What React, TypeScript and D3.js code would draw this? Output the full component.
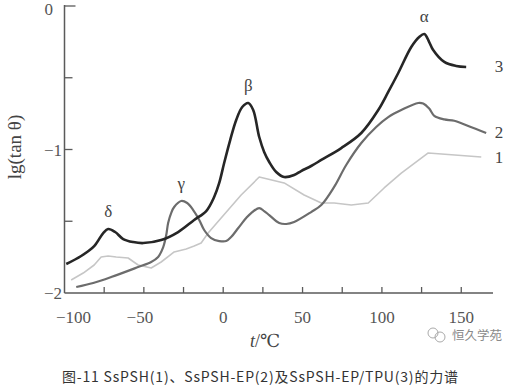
import React from "react";
import * as d3 from "d3";

const xTicks = [-100, -75, -50, -25, 0, 25, 50, 75, 100, 125, 150];
const xTickLabels = [-100, -50, 0, 50, 100, 150];
const yTicks = [0, -0.5, -1, -1.5, -2];
const yTickLabels = [0, -1, -2];

// curve 1: SsPSH
const t1 = [-95.8, -88.2, -81.3, -76.9, -72.5, -67.4, -59.9, -53.6, -45.4, -39.1, -30.9, -23.3, -18.3, -13.9, -9.5, -1.3, 11.3, 22.7, 38.4, 51.0, 61.8, 69.9, 80.7, 91.4, 101.4, 112.2, 129.2, 162.6];
const v1 = [-1.909, -1.861, -1.805, -1.749, -1.742, -1.749, -1.756, -1.805, -1.826, -1.784, -1.714, -1.693, -1.673, -1.652, -1.582, -1.477, -1.317, -1.192, -1.233, -1.317, -1.373, -1.373, -1.387, -1.373, -1.268, -1.164, -1.024, -1.052];

// curve 2: SsPSH-EP
const t2 = [-92.6, -81.9, -70.6, -53.6, -45.4, -41.0, -37.8, -35.9, -34.7, -32.8, -30.9, -26.5, -22.7, -18.9, -15.1, -12.0, -7.6, -2.5, 1.9, 5.0, 9.5, 14.5, 17.6, 22.7, 25.8, 29.0, 35.3, 39.7, 44.7, 55.4, 61.8, 69.9, 77.5, 87.0, 96.4, 104.0, 112.2, 122.9, 126.0, 129.8, 133.0, 139.3, 145.6, 154.4, 165.7];
const v2 = [-1.958, -1.930, -1.889, -1.819, -1.784, -1.749, -1.680, -1.596, -1.512, -1.443, -1.401, -1.359, -1.373, -1.422, -1.491, -1.561, -1.617, -1.638, -1.638, -1.610, -1.547, -1.477, -1.443, -1.408, -1.429, -1.457, -1.512, -1.519, -1.505, -1.436, -1.387, -1.261, -1.108, -0.955, -0.843, -0.774, -0.725, -0.676, -0.680, -0.715, -0.765, -0.790, -0.800, -0.836, -0.885];

// curve 3: SsPSH-EP/TPU
const t3 = [-98.9, -89.5, -81.3, -75.6, -72.5, -68.1, -63.0, -56.7, -50.4, -39.1, -28.4, -18.3, -10.7, -5.7, -2.5, 0.6, 4.4, 8.2, 12.0, 15.8, 18.9, 22.7, 25.8, 29.0, 33.4, 38.4, 44.7, 49.1, 55.4, 61.8, 74.4, 87.0, 97.7, 104.0, 110.3, 118.5, 123.5, 126.7, 129.8, 132.3, 139.3, 146.8, 153.1];
const v3 = [-1.798, -1.742, -1.673, -1.582, -1.554, -1.575, -1.624, -1.645, -1.652, -1.631, -1.575, -1.491, -1.429, -1.331, -1.233, -1.094, -0.934, -0.794, -0.704, -0.676, -0.725, -0.913, -1.017, -1.087, -1.157, -1.192, -1.178, -1.150, -1.115, -1.073, -0.990, -0.885, -0.725, -0.599, -0.467, -0.286, -0.216, -0.195, -0.251, -0.307, -0.390, -0.418, -0.425];

const curveNames = ["1", "2", "3"];
const peakNames = ["δ", "γ", "β", "α"];
const peakT = [-72.5, -26.5, 15.8, 126.7];
const peakV = [-1.554, -1.359, -0.676, -0.195];

const caption = "图-11 SsPSH(1)、SsPSH-EP(2)及SsPSH-EP/TPU(3)的力谱";

export default function App() {
  const W = 523, H = 392;
  const x = d3.scaleLinear().domain([-100, 170]).range([64.5, 493]);
  const y = d3.scaleLinear().domain([-2, 0]).range([293, 6]);
  const mk = (ts: number[], vs: number[]) => ts.map((t, i) => [t, vs[i]] as [number, number]);
  const lineSmooth = d3.line<[number, number]>().x(d => x(d[0])).y(d => y(d[1])).curve(d3.curveCatmullRom.alpha(0.5));
  const lineLin = d3.line<[number, number]>().x(d => x(d[0])).y(d => y(d[1])).curve(d3.curveLinear);
  const serif = "'Liberation Serif', 'DejaVu Serif', serif";
  const axisColor = "#5a5a5a";
  const x0 = x(-100);
  const yb = y(-2);
  return (
    <svg width={W} height={H} style={{ position: "absolute", left: 0, top: 0, background: "#fff" }}>
      {/* axes */}
      <line x1={x0} y1={y(0) - 1} x2={x0} y2={yb} stroke={axisColor} strokeWidth={1.5} />
      <line x1={x0} y1={yb} x2={x(170)} y2={yb} stroke={axisColor} strokeWidth={1.5} />
      {xTicks.filter(t => t > -100).map(t => (
        <line key={"xt" + t} x1={x(t)} x2={x(t)} y1={yb} y2={yb - 6} stroke={axisColor} strokeWidth={1.3} />
      ))}
      {yTicks.filter(v => v > -2).map(v => (
        <line key={"yt" + v} x1={x0} x2={x0 + (v === 0 ? 11 : 8)} y1={y(v)} y2={y(v)} stroke={axisColor} strokeWidth={1.3} />
      ))}
      {xTickLabels.map(t => (
        <text key={"xl" + t} x={x(t) + (t === -100 ? 9 : t < 0 ? -4 : 0)} y={323} textAnchor="middle" fontFamily={serif} fontSize={17} fill="#555">
          {t < 0 ? "\u2212" + Math.abs(t) : String(t)}
        </text>
      ))}
      {yTickLabels.map(v => (
        <text key={"yl" + v} x={v === 0 ? 53 : 62} y={v === 0 ? 15 : y(v) + 6} textAnchor="end" fontFamily={serif} fontSize={17} fill="#555">
          {v < 0 ? "\u2212" + Math.abs(v) : String(v)}
        </text>
      ))}
      <text transform="translate(21,147) rotate(-90)" textAnchor="middle" fontFamily={serif} fontSize={19} fill="#444">
        lg(tan θ)
      </text>
      <text x={265} y={347} textAnchor="middle" fontFamily={serif} fontSize={18} fill="#444">
        <tspan fontStyle="italic">t</tspan>/℃
      </text>
      {/* curves */}
      <path d={lineLin(mk(t1, v1)) || ""} fill="none" stroke="#c6c6c6" strokeWidth={1.6} strokeLinejoin="round" />
      <path d={lineSmooth(mk(t2, v2)) || ""} fill="none" stroke="#6c6c6c" strokeWidth={2.2} strokeLinejoin="round" />
      <path d={lineSmooth(mk(t3, v3)) || ""} fill="none" stroke="#262626" strokeWidth={2.6} strokeLinejoin="round" />
      {/* curve labels */}
      {curveNames.map((n, i) => (
        <text key={"cn" + n} x={499} y={[163, 138, 72][i]} textAnchor="middle" fontFamily={serif} fontSize={17} fill="#444">
          {n}
        </text>
      ))}
      {peakNames.map((n, i) => (
        <text key={"pk" + n} x={x(peakT[i])} y={y(peakV[i]) - 12} textAnchor="middle" fontFamily={serif} fontSize={17} fill="#444">
          {n}
        </text>
      ))}
      {/* watermark */}
      <g transform="translate(436,335)" stroke="#aaa" fill="none" strokeWidth={1}>
        <circle cx={-3} cy={-2} r={5} />
        <circle cx={4} cy={2} r={5} />
      </g>
      <text x={452} y={340} fontFamily="'Noto Sans CJK SC', sans-serif" fontSize={12.5} fill="#8a8a8a">恒久学苑</text>
      <text x={62} y={382} fontFamily="'Noto Sans CJK SC', sans-serif" fontSize={14} fill="#333" textLength={396} lengthAdjust="spacing">
        {caption}
      </text>
    </svg>
  );
}
